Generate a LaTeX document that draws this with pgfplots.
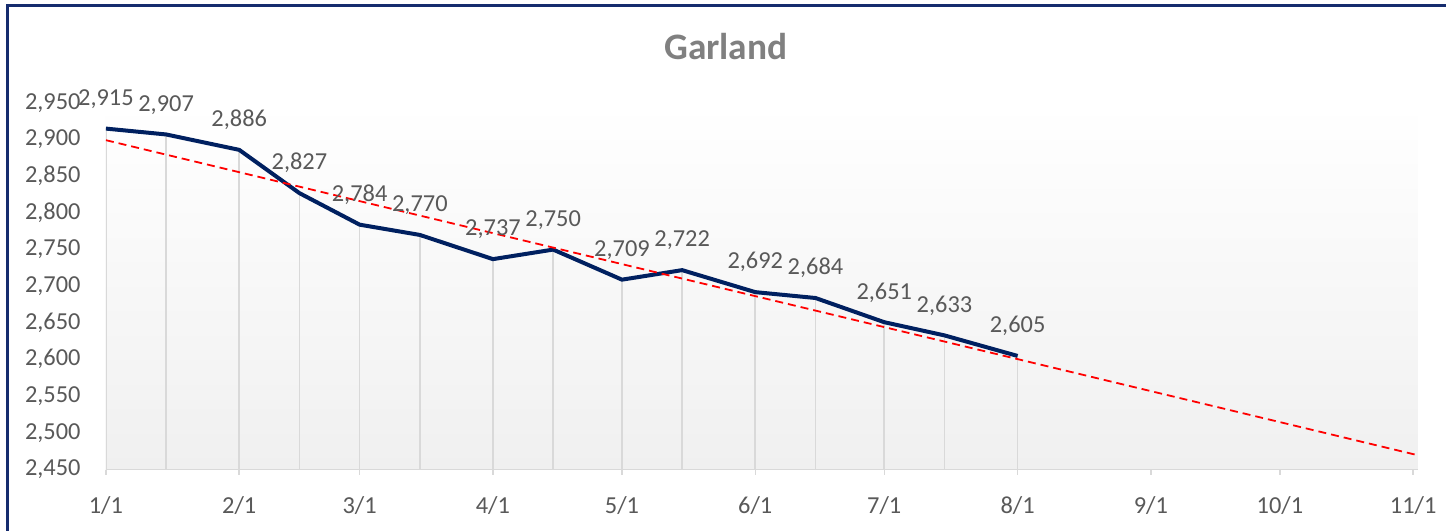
\documentclass[border=0pt]{standalone}
\usepackage{fontspec}
\setmainfont{Carlito}
\usepackage{pgfplots}
\pgfplotsset{compat=1.18}
\definecolor{navyline}{RGB}{0,32,96}
\definecolor{framecol}{RGB}{22,44,110}
\definecolor{lblgray}{RGB}{89,89,89}
\definecolor{titlegray}{RGB}{128,128,128}
\definecolor{axgray}{RGB}{217,217,217}
\definecolor{bggray}{RGB}{240,240,240}
\begin{document}
\begin{tikzpicture}
\path[fill=white] (0,0) rectangle (723.5bp,265.5bp);
\draw[framecol, line width=1.2bp] (3.75bp,0) -- (3.75bp,262.75bp) -- (723.5bp,262.75bp);
\node[anchor=base, inner sep=0pt, text=titlegray, font=\fontsize{18.7bp}{22bp}\selectfont\bfseries] at (363.25bp,235.85bp) {Garland};
\begin{axis}[
  at={(53bp,30.5bp)}, anchor=south west,
  scale only axis, width=656.35bp, height=183.5bp,
  xmin=0, xmax=305, ymin=2450, ymax=2950,
  axis x line*=bottom, axis y line*=left,
  x axis line style={draw=axgray, line width=0.75bp},
  y axis line style={draw=none},
  axis background/.style={shade, top color=white, bottom color=bggray},
  xtick={0,31,59,90,120,151,181,212,243,273,304},
  xticklabels={1/1,2/1,3/1,4/1,5/1,6/1,7/1,8/1,9/1,10/1,11/1},
  x tick style={draw=axgray, line width=0.75bp},
  tick align=outside,
  major tick length=2.5bp,
  ytick={2450,2500,...,2950},
  y tick style={draw=none},
  /pgf/number format/assume math mode=true,
  /pgf/number format/1000 sep={,},
  tick label style={font=\fontsize{12.2bp}{14bp}\selectfont, text=lblgray},
  xticklabel style={anchor=base, inner sep=0pt, yshift=-19.5bp},
  yticklabel style={anchor=base east, inner sep=0pt, xshift=-10bp, yshift=-0.316em},
  clip=true,
]
\addplot[ycomb, draw=axgray, line width=0.8bp, no marks] table {
x y
0 2915
14 2907
31 2886
45 2827
59 2784
73 2770
90 2737
104 2750
120 2709
134 2722
151 2692
165 2684
181 2651
195 2633
212 2605
};
\addplot[navyline, line width=2bp, line join=round, no marks,
  nodes near coords,
  every node near coord/.append style={anchor=base, inner sep=0pt, yshift=11.6bp,
     font=\fontsize{12.2bp}{14bp}\selectfont, text=lblgray,
     /pgf/number format/1000 sep={,}, /pgf/number format/assume math mode=true}] table {
x y
0 2915
14 2907
31 2886
45 2827
59 2784
73 2770
90 2737
104 2750
120 2709
134 2722
151 2692
165 2684
181 2651
195 2633
212 2605
};
\addplot[red, line width=0.9bp, dash pattern=on 4bp off 2.5bp, no marks] coordinates {(0,2899.2) (305,2469.7)};
\end{axis}
\end{tikzpicture}
\end{document}
